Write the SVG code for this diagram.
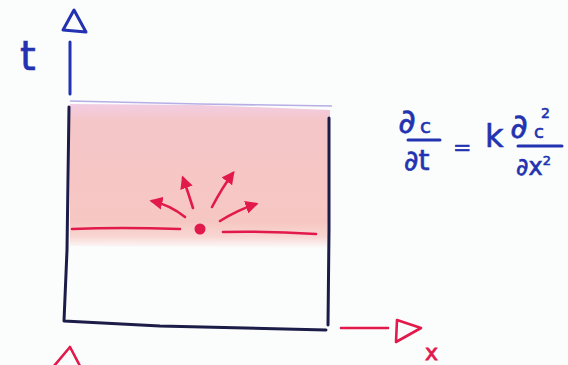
<svg xmlns="http://www.w3.org/2000/svg" width="568" height="365" viewBox="0 0 568 365">
<style>
.ink{fill:none;stroke:#1c1c48;stroke-width:3;stroke-linecap:round;stroke-linejoin:round}
.blue{fill:none;stroke:#2232b0;stroke-width:3;stroke-linecap:round;stroke-linejoin:round}
.red{fill:none;stroke:#e21a4c;stroke-width:2.6;stroke-linecap:round;stroke-linejoin:round}
.rtxt{fill:#e21a4c;font-family:"DejaVu Sans",sans-serif}
.btxt{fill:#2232b0;stroke:#2232b0;stroke-width:0.6;font-family:"DejaVu Sans",sans-serif}
</style>
<defs>
<linearGradient id="heat" x1="0" y1="0" x2="0" y2="1">
<stop offset="0" stop-color="#f2cde2"/>
<stop offset="0.12" stop-color="#f5c6c8"/>
<stop offset="0.82" stop-color="#f6c7c2"/>
<stop offset="0.92" stop-color="#f8d6d2"/>
<stop offset="1" stop-color="#fbfbfb"/>
</linearGradient>
<marker id="ah" viewBox="0 0 10 10" refX="8" refY="5" markerWidth="5" markerHeight="5" orient="auto">
<path d="M0,0 L10,5 L0,10 z" fill="#e21a4c"/>
</marker>
</defs>
<rect width="568" height="365" fill="#fbfcfc"/>
<g id="heated-region">
<path d="M70,104 L200,105 L330,110 L330,248 L70,246 z" fill="url(#heat)"/>
<path d="M70,101 Q150,103 200,104 T332,106" fill="none" stroke="#b7aee6" stroke-width="1.6"/>
</g>
<g id="box">
<path class="ink" d="M69,107 L67,250 L64,321 L160,326 L326,330"/>
<path class="ink" d="M329,118 L329,230 L328,325"/>
</g>
<g id="interface">
<path class="red" d="M72,229 Q120,227 180,229"/>
<path class="red" d="M223,232 Q270,231 316,234"/>
<circle cx="200" cy="229" r="5.5" fill="#e21a4c"/>
</g>
<g id="connectors">
<path class="red" d="M185,217 Q170,205 152,201" marker-end="url(#ah)"/>
<path class="red" d="M193,208 Q188,192 183,178" marker-end="url(#ah)"/>
<path class="red" d="M212,207 Q222,188 233,173" marker-end="url(#ah)"/>
<path class="red" d="M220,221 Q238,210 256,204" marker-end="url(#ah)"/>
</g>
<g id="t-axis">
<path class="blue" d="M70,42 L70,94"/>
<path class="blue" d="M74,10 L63,30 L86,32 z"/>
<text class="btxt" x="20" y="70" font-size="40">t</text>
</g>
<g id="x-axis">
<path class="red" d="M341,328 L388,328"/>
<path class="red" d="M397,320 L396,342 L421,328 z"/>
<text class="rtxt" x="425" y="360" font-size="22" stroke="#e21a4c" stroke-width="0.8">x</text>
</g>
<g id="origin-marker">
<path class="red" d="M70,347 L54,366 M70,347 L80,366"/>
</g>
<g id="equation">
<text class="btxt" x="398" y="133" font-size="34">∂</text>
<text class="btxt" x="420" y="133" font-size="20">c</text>
<path class="blue" d="M408,140 L440,140" stroke-width="2.5"/>
<text class="btxt" x="404" y="170" font-size="28">∂t</text>
<text class="btxt" x="453" y="155" font-size="22">=</text>
<text class="btxt" x="485" y="147" font-size="32">k</text>
<text class="btxt" x="510" y="138" font-size="34">∂</text>
<text class="btxt" x="541" y="118" font-size="14">2</text>
<text class="btxt" x="534" y="138" font-size="18">c</text>
<path class="blue" d="M518,146 L562,146" stroke-width="2.5"/>
<text class="btxt" x="516" y="175" font-size="24">∂x<tspan font-size="13" dy="-10">2</tspan></text>
</g>
</svg>
